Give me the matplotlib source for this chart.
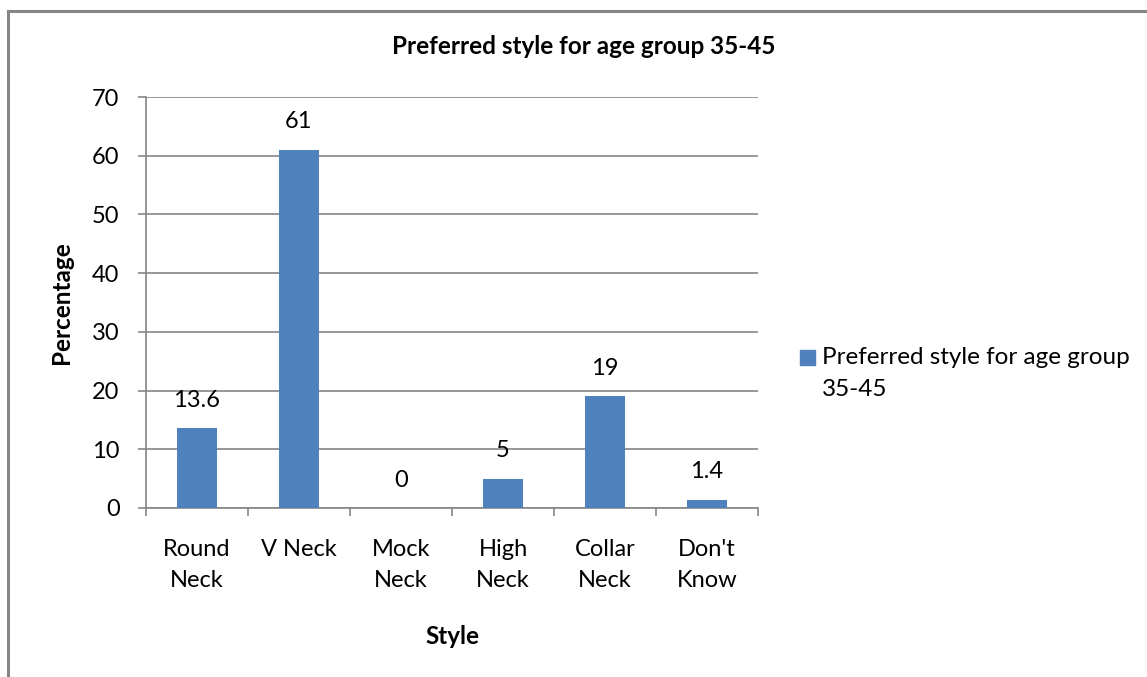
import matplotlib
matplotlib.use("Agg")
import matplotlib.pyplot as plt
from matplotlib.lines import Line2D
import numpy as np

categories = ["Round\nNeck", "V Neck", "Mock\nNeck", "High\nNeck", "Collar\nNeck", "Don't\nKnow"]
values = [13.6, 61, 0, 5, 19, 1.4]
value_labels = ["13.6", "61", "0", "5", "19", "1.4"]
series_name = "Preferred style for age group\n35-45"
title = "Preferred style for age group 35-45"

W, H = 1147, 677
plt.rcParams["font.family"] = ["Lato", "DejaVu Sans"]

fig = plt.figure(figsize=(W / 100, H / 100), dpi=100)
grid_c = "#868686"
bar_c = "#4F81BD"

# outer frame (top and left edges)
fig.add_artist(Line2D([8 / W, 1], [1 - 11 / H, 1 - 11 / H], color=grid_c, lw=2.2))
fig.add_artist(Line2D([8 / W, 8 / W], [0, 1 - 11 / H], color=grid_c, lw=2.2))

ax = fig.add_axes([146 / W, (H - 508) / H, 612 / W, 411 / H])
x = np.arange(len(categories))
ax.bar(x, values, width=0.4, color=bar_c, zorder=3)
for xi, v, lab in zip(x, values, value_labels):
    ax.annotate(lab, (xi, v), xytext=(0, 12.5), textcoords="offset points",
                ha="center", va="bottom", fontsize=17)

ax.set_xlim(-0.5, len(categories) - 0.5)
ax.set_ylim(0, 70)
ax.set_yticks(range(0, 71, 10))
ax.yaxis.grid(True, color=grid_c, lw=1.2, zorder=0)
ax.set_axisbelow(True)

ax.set_xticks(x)
ax.set_xticklabels(categories, fontsize=17, linespacing=1.6)
ax.set_xticks(np.arange(-0.5, len(categories), 1), minor=True)
ax.tick_params(axis="x", which="major", length=0, pad=22.5)
ax.tick_params(axis="x", which="minor", length=6, color=grid_c, width=1.2)
ax.tick_params(axis="y", length=6, color=grid_c, width=1.2, labelsize=17, pad=13)

for s in ["top", "right"]:
    ax.spines[s].set_visible(False)
for s in ["left", "bottom"]:
    ax.spines[s].set_color(grid_c)
    ax.spines[s].set_linewidth(1.2)

ax.set_xlabel("Style", fontsize=17.5, fontweight="bold", labelpad=24)
ax.set_ylabel("Percentage", fontsize=17.5, fontweight="bold", labelpad=14)
fig.text(584 / W, 1 - 47 / H, title, fontsize=17.5, fontweight="bold",
         ha="center", va="center")

# legend entry
fig.patches.append(plt.Rectangle((800 / W, 1 - 365 / H), 15 / W, 15 / H,
                                 color=bar_c, transform=fig.transFigure, figure=fig))
fig.text(822 / W, 1 - 347 / H, series_name, fontsize=17.5, ha="left", va="top",
         linespacing=1.65)

fig.savefig("out.png", dpi=100)
